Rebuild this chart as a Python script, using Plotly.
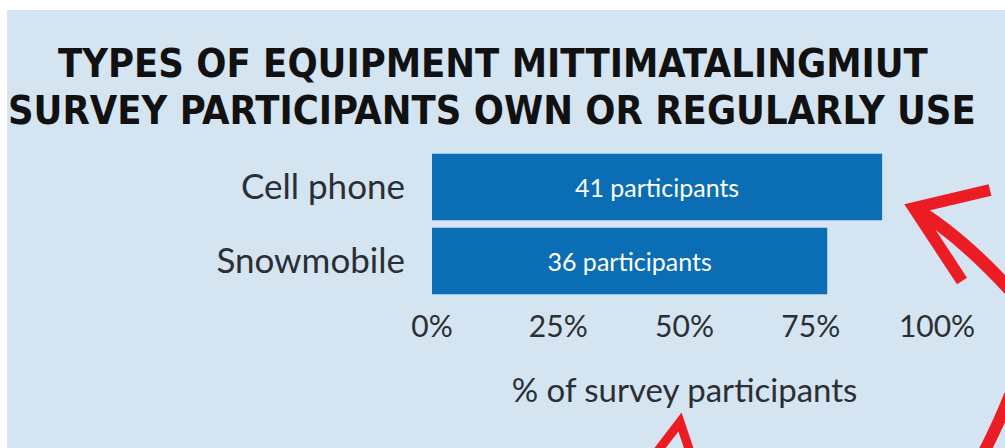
import plotly.graph_objects as go

# ---- data ----
categories = ["Cell phone", "Snowmobile"]
participants = [41, 36]
total_participants = 46
percent = [c / total_participants * 100 for c in participants]
tick_values = [0, 25, 50, 75, 100]
tick_labels = ["0%", "25%", "50%", "75%", "100%"]

BG = "#d4e4f1"
BAR = "#0b6db3"
TXT = "#2b2f33"
RED = "#ec1c24"

W, H = 1005, 448
L, R, T, B = 432, 68, 150, 150
PW, PH = W - L - R, H - T - B


def px(x):
    return (x - L) / PW


def py(y):
    return (H - B - y) / PH


fig = go.Figure(
    go.Bar(
        y=categories,
        x=percent,
        orientation="h",
        marker=dict(color=BAR, line=dict(width=0)),
        customdata=participants,
        texttemplate="%{customdata} participants",
        textposition="inside",
        insidetextanchor="middle",
        textfont=dict(family="Lato", size=25, color="white"),
        hoverinfo="skip",
    )
)

shapes = [
    # light-blue card on white page
    dict(type="rect", xref="paper", yref="paper", x0=px(7), x1=px(W + 5),
         y0=py(10), y1=py(H + 5), fillcolor=BG, line=dict(width=0), layer="below"),
    # red decorative arrows
    dict(type="path", xref="paper", yref="paper",
         path=f"M {px(1012)},{py(292)} Q {px(960)},{py(235)} {px(914)},{py(208)}",
         line=dict(color=RED, width=13)),
    dict(type="path", xref="paper", yref="paper",
         path=f"M {px(990)},{py(190)} L {px(914)},{py(208)} L {px(962)},{py(281)}",
         line=dict(color=RED, width=12)),
    dict(type="path", xref="paper", yref="paper",
         path=f"M {px(1010)},{py(395)} Q {px(998)},{py(425)} {px(984)},{py(452)}",
         line=dict(color=RED, width=12)),
    dict(type="path", xref="paper", yref="paper",
         path=f"M {px(657)},{py(452)} L {px(680)},{py(422)} L {px(690)},{py(452)}",
         line=dict(color=RED, width=9)),
]

TITLE_FONT = dict(family="DejaVu Sans Condensed", size=39.5, color="#111")

fig.update_layout(
    width=W,
    height=H,
    margin=dict(l=L, r=R, t=T, b=B, pad=0),
    paper_bgcolor="white",
    plot_bgcolor="rgba(0,0,0,0)",
    bargap=0.1,
    showlegend=False,
    shapes=shapes,
    font=dict(family="Lato", color=TXT),
    annotations=[
        dict(text="<b>TYPES OF EQUIPMENT MITTIMATALINGMIUT</b>", xref="paper", yref="paper",
             x=px(493), y=py(63), xanchor="center", yanchor="middle", showarrow=False,
             font=TITLE_FONT),
        dict(text="<b>SURVEY PARTICIPANTS OWN OR REGULARLY USE</b>", xref="paper", yref="paper",
             x=px(492), y=py(110), xanchor="center", yanchor="middle", showarrow=False,
             font=TITLE_FONT),
    ],
    xaxis=dict(
        range=[0, 100],
        tickvals=tick_values,
        ticktext=tick_labels,
        showgrid=False,
        zeroline=False,
        showline=False,
        ticks="",
        tickfont=dict(family="Lato", size=30, color=TXT),
        ticklabelstandoff=8,
        title=dict(text="% of survey participants", standoff=36,
                   font=dict(family="Lato", size=33, color=TXT)),
        fixedrange=True,
    ),
    yaxis=dict(
        categoryorder="array",
        categoryarray=categories,
        autorange="reversed",
        showgrid=False,
        zeroline=False,
        showline=False,
        ticks="",
        tickfont=dict(family="Lato", size=35, color=TXT),
        ticklabelstandoff=26,
        fixedrange=True,
    ),
)

fig.write_html("out.html")
